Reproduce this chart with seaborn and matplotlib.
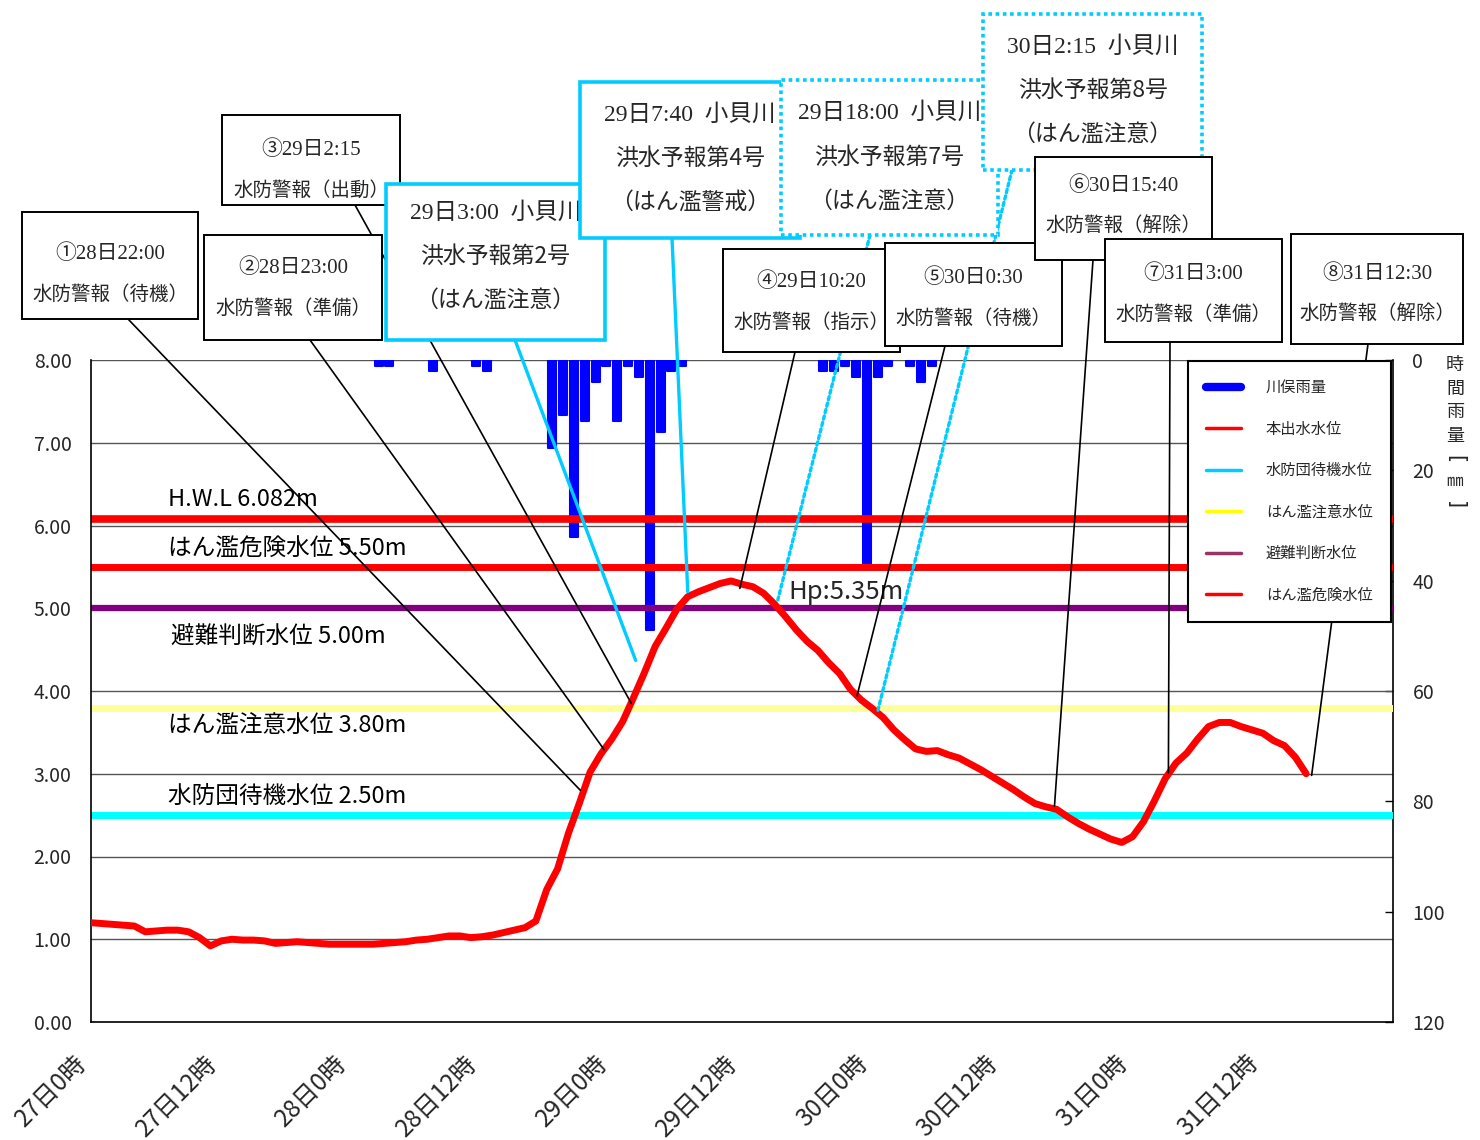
"""
    本出水水位と川俣雨量のグラフ
"""

import numpy as np
import pandas as pd
import matplotlib.pyplot as plt
import seaborn as sns
from matplotlib.lines import Line2D
from matplotlib.patches import Rectangle, ConnectionPatch
from matplotlib.ticker import MultipleLocator
from matplotlib.transforms import ScaledTranslation

# 本出水水位 (m), 27日0時からの毎時
level_m = [
    1.20, 1.19, 1.18, 1.17, 1.16, 1.09, 1.10, 1.11, 1.11, 1.09,
    1.02, 0.92, 0.98, 1.00, 0.99, 0.99, 0.98, 0.95, 0.96, 0.97,
    0.96, 0.95, 0.94, 0.94, 0.94, 0.94, 0.94, 0.95, 0.96, 0.97,
    0.99, 1.00, 1.02, 1.04, 1.04, 1.02, 1.03, 1.05, 1.08, 1.11,
    1.14, 1.22, 1.60, 1.85, 2.28, 2.64, 3.02, 3.24, 3.42, 3.63,
    3.92, 4.22, 4.54, 4.76, 4.99, 5.14, 5.20, 5.25, 5.30, 5.33,
    5.29, 5.26, 5.18, 5.05, 4.90, 4.74, 4.60, 4.49, 4.34, 4.21,
    4.02, 3.89, 3.79, 3.68, 3.53, 3.41, 3.30, 3.27, 3.28, 3.23,
    3.19, 3.12, 3.05, 2.97, 2.89, 2.81, 2.72, 2.64, 2.60, 2.57,
    2.48, 2.40, 2.33, 2.27, 2.21, 2.17, 2.24, 2.42, 2.67, 2.94,
    3.13, 3.25, 3.42, 3.57, 3.62, 3.62, 3.57, 3.53, 3.49, 3.40,
    3.34, 3.20, 3.00,
]

# 川俣雨量 (mm/h)
rain_hour = [26, 27, 31, 35, 36, 42, 43, 44, 45, 46, 47, 48, 49, 50, 51, 52, 53, 54,
             67, 68, 69, 70, 71, 72, 73, 75, 76, 77]
rain_mm = [1, 1, 2, 1, 2, 16, 10, 32, 11, 4, 1, 11, 1, 3, 49, 13, 2, 1,
           2, 2, 1, 3, 37, 3, 1, 1, 4, 1]

# 基準水位
ref_values = [6.082, 5.50, 5.00, 3.80, 2.50]
ref_labels = ["H.W.L 6.082m", "はん濫危険水位 5.50m", "避難判断水位 5.00m",
              "はん濫注意水位 3.80m", "水防団待機水位 2.50m"]

xtick_labels = ["27日0時", "27日12時", "28日0時", "28日12時", "29日0時",
                "29日12時", "30日0時", "30日12時", "31日0時", "31日12時"]

# 発表情報
event_text = [
    ["①28日22:00", "水防警報（待機）"],
    ["②28日23:00", "水防警報（準備）"],
    ["③29日2:15", "水防警報（出動）"],
    ["29日3:00  小貝川", "洪水予報第2号", "（はん濫注意）"],
    ["29日7:40  小貝川", "洪水予報第4号", "（はん濫警戒）"],
    ["29日18:00  小貝川", "洪水予報第7号", "（はん濫注意）"],
    ["30日2:15  小貝川", "洪水予報第8号", "（はん濫注意）"],
    ["④29日10:20", "水防警報（指示）"],
    ["⑤30日0:30", "水防警報（待機）"],
    ["⑥30日15:40", "水防警報（解除）"],
    ["⑦31日3:00", "水防警報（準備）"],
    ["⑧31日12:30", "水防警報（解除）"],
]
anchor_hour = [45.1, 47.3, 49.8, 50.2, 55.0, 63.3, 72.5, 59.8, 70.6, 88.8, 99.3, 112.5]
anchor_level = [2.80, 3.29, 3.85, 4.37, 5.20, 5.10, 3.75, 5.24, 3.94, 2.61, 3.01, 2.98]

W, H = 1480, 1140
CYAN = "#00CCFF"

# box layout in pixels: x0, y0, x1, y1, attach x, attach y, style, zorder, text row offsets
box_layout = [
    (22, 212, 198, 319, 128, 319, "black", 3, (42, 82)),
    (204, 235, 382, 340, 310, 340, "black", 3, (33, 73)),
    (222, 115, 400, 205, 355, 205, "black", 3, (35, 75)),
    (386, 184, 605, 340, 515, 340, "solid", 4, (29, 72, 116)),
    (580, 82, 800, 238, 672, 238, "solid", 5, (33, 76, 120)),
    (781, 80, 998, 235, 870, 235, "dotted", 6, (33, 77, 121)),
    (983, 14, 1202, 170, 1012, 170, "dotted", 7, (33, 76, 120)),
    (723, 249, 900, 352, 795, 352, "black", 4, (33, 73)),
    (885, 243, 1062, 346, 945, 346, "black", 5, (35, 75)),
    (1035, 157, 1212, 260, 1093, 260, "black", 8, (29, 68)),
    (1105, 239, 1282, 342, 1170, 342, "black", 9, (35, 75)),
    (1291, 234, 1463, 344, 1368, 344, "black", 4, (40, 79)),
]


def fx(x):
    return x / W


def fy(y):
    return 1 - y / H


sns.set_theme(style="white")
plt.rcParams["font.family"] = ["Noto Sans CJK JP", "DejaVu Sans"]
SERIF = ["Liberation Serif", "Noto Sans CJK JP"]
SANS = ["Noto Sans CJK JP", "DejaVu Sans"]

df = pd.DataFrame({"hour": np.arange(len(level_m)), "level": level_m})

fig = plt.figure(figsize=(W / 100, H / 100), dpi=100)
fig.patch.set_facecolor("white")
ax = fig.add_axes([fx(91), fy(1022), fx(1302), 662 / H])
ax2 = ax.twinx()
ax.set_zorder(ax2.get_zorder() + 1)
ax.patch.set_visible(False)

# rain bars (right axis, inverted)
ax2.bar(np.array(rain_hour) + 0.5, rain_mm, width=0.74, color="#0000FF",
        edgecolor="#0000FF", linewidth=1.5, joinstyle="round")
ax2.set_ylim(120, 0)
ax2.yaxis.set_major_locator(MultipleLocator(20))
ax2.yaxis.set_minor_locator(MultipleLocator(15))
ax2.yaxis.remove_overlapping_locs = False
ax2.grid(False)
ax2.yaxis.grid(True, which="minor", color="#555555", linewidth=1)
ax2.tick_params(axis="y", which="minor", length=0)
ax2.tick_params(axis="y", which="major", direction="in", length=6, width=1,
                color="black", labelsize=14, pad=14)
for s in ["top", "left", "bottom"]:
    ax2.spines[s].set_visible(False)
ax2.spines["right"].set_color("black")
ax2.spines["right"].set_linewidth(1.2)

# reference levels
ref_colors = ["#FF0000", "#FF0000", "#800080", "#FFFF99", "#00FFFF"]
ref_widths = [5.5, 5.0, 4.5, 5.0, 5.0]
for v, c, w in zip(ref_values, ref_colors, ref_widths):
    ax.axhline(v, color=c, linewidth=w, zorder=2)

ref_text_y = [6.31, 5.72, 4.65, 3.58, 2.73]
ref_text_x = [7.1, 7.1, 7.4, 7.1, 7.1]
for tx, ty, s in zip(ref_text_x, ref_text_y, ref_labels):
    ax.text(tx, ty, s, fontsize=17, va="center", ha="left", color="black", zorder=3)

# water level
sns.lineplot(data=df, x="hour", y="level", color="#FF0000", linewidth=5,
             ax=ax, legend=False, zorder=4, solid_capstyle="round")
ax.text(64.3, 5.2, "Hp:5.35m", fontsize=18.5, va="center", ha="left", zorder=5)

ax.set_xlim(0, 120)
ax.set_ylim(0, 8)
ax.set_xlabel("")
ax.set_ylabel("")
ax.set_yticks(range(9))
ax.set_yticklabels([f"{v:.2f}" for v in range(9)])
ax.set_xticks(np.arange(0, 120, 12))
ax.set_xticklabels(xtick_labels)
ax.xaxis.set_minor_locator(MultipleLocator(3))
ax.tick_params(axis="x", which="both", direction="in", length=8, width=1, color="black")
ax.tick_params(axis="x", which="major", labelsize=17.5, pad=27)
ax.tick_params(axis="y", length=0, labelsize=14, pad=14)
shift = ScaledTranslation(-6 / 72, 0, fig.dpi_scale_trans)
for lab in ax.get_xticklabels():
    lab.set_rotation(45)
    lab.set_ha("right")
    lab.set_va("center")
    lab.set_rotation_mode("anchor")
    lab.set_transform(lab.get_transform() + shift)
for s in ["top", "right"]:
    ax.spines[s].set_visible(False)
for s in ["left", "bottom"]:
    ax.spines[s].set_color("black")
    ax.spines[s].set_linewidth(1.2)

# right axis title (vertical)
for i, ch in enumerate("時間雨量"):
    fig.text(fx(1455), fy(365 + 23.5 * i), ch, fontsize=13, ha="center", va="center")
fig.text(fx(1455), fy(459), "[", fontsize=15, rotation=270, ha="center", va="center",
         family=["DejaVu Sans"])
fig.text(fx(1455), fy(482), "㎜", fontsize=12, ha="center", va="center")
fig.text(fx(1455), fy(505), "]", fontsize=15, rotation=270, ha="center", va="center",
         family=["DejaVu Sans"])

# annotation boxes
for lines, (x0, y0, x1, y1, ax_, ay_, style, z, rows), h, m in zip(
        event_text, box_layout, anchor_hour, anchor_level):
    if style == "black":
        ec, lw, ls, fs1, fs2 = "black", 1.4, "-", 15, 14
    elif style == "solid":
        ec, lw, ls, fs1, fs2 = CYAN, 2.6, "-", 17, 16.5
    else:
        ec, lw, ls, fs1, fs2 = CYAN, 2.6, (0, (1, 1)), 17, 16.5
    con = ConnectionPatch(xyA=(fx(ax_), fy(ay_)), coordsA="figure fraction",
                          xyB=(h, m), coordsB="data", axesB=ax,
                          color="black" if style == "black" else CYAN,
                          linewidth=1.2 if style == "black" else 2.4,
                          linestyle="-" if style != "dotted" else (0, (1, 1)),
                          zorder=2)
    fig.add_artist(con)
    rect = Rectangle((fx(x0), fy(y1)), fx(x1 - x0), (y1 - y0) / H,
                     transform=fig.transFigure, facecolor="white", edgecolor=ec,
                     linewidth=lw, linestyle=ls, zorder=z)
    fig.add_artist(rect)
    cx = (x0 + x1) / 2
    for i, (s, r) in enumerate(zip(lines, rows)):
        fig.text(fx(cx), fy(y0 + r), s, fontsize=fs1 if i == 0 else fs2,
                 family=SERIF if i == 0 else SANS,
                 ha="center", va="center", zorder=z + 0.5)

# legend
handles = [
    Line2D([], [], color="#0000FF", linewidth=6, solid_capstyle="round"),
    Line2D([], [], color="#FF0000", linewidth=2.5),
    Line2D([], [], color=CYAN, linewidth=2.5),
    Line2D([], [], color="#FFFF00", linewidth=2.5),
    Line2D([], [], color="#993366", linewidth=2.5),
    Line2D([], [], color="#FF0000", linewidth=2.5),
]
labels = ["川俣雨量", "本出水水位", "水防団待機水位", "はん濫注意水位", "避難判断水位", "はん濫危険水位"]
leg = fig.legend(handles, labels, loc="upper right", bbox_to_anchor=(fx(1391), fy(361)),
                 borderaxespad=0, fontsize=11, frameon=True, fancybox=False,
                 framealpha=1, edgecolor="black", borderpad=1.2, labelspacing=1.6,
                 handlelength=2.3, handletextpad=1.6)
leg.get_frame().set_linewidth(1.5)
leg.set_zorder(20)

fig.savefig("out.png", dpi=100, facecolor="white")
